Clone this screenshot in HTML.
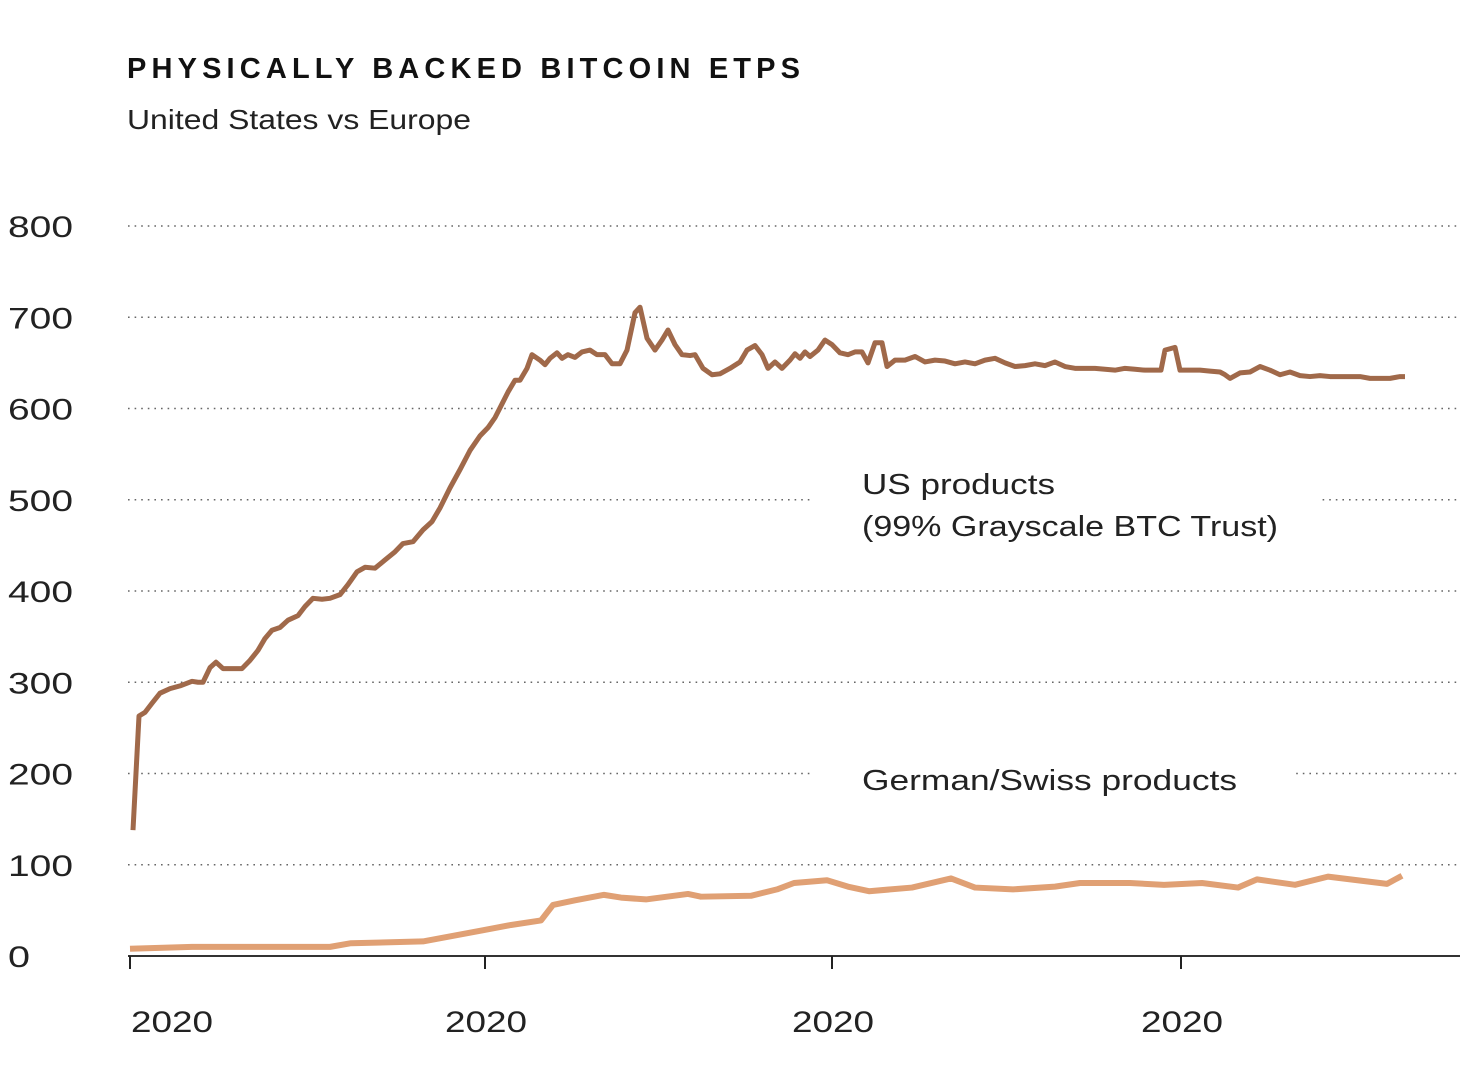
<!DOCTYPE html>
<html><head><meta charset="utf-8"><style>
body{margin:0;background:#fff;width:1477px;height:1064px;overflow:hidden;font-family:"Liberation Sans",sans-serif}
</style></head><body>
<svg width="1477" height="1064" xmlns="http://www.w3.org/2000/svg">
<text x="127" y="78" font-size="29" font-weight="bold" textLength="673" lengthAdjust="spacing" fill="#111">PHYSICALLY BACKED BITCOIN ETPS</text>
<text x="127" y="129" font-size="28" textLength="344" lengthAdjust="spacingAndGlyphs" fill="#222">United States vs Europe</text>
<g id="grid"></g><g id="lines"></g>
<rect x="812" y="470" width="508" height="80" fill="#fff"/>
<rect x="812" y="758" width="482" height="40" fill="#fff"/>
<text x="862" y="494" font-size="29" textLength="193" lengthAdjust="spacingAndGlyphs" fill="#222">US products</text>
<text x="862" y="536" font-size="29" textLength="416" lengthAdjust="spacingAndGlyphs" fill="#222">(99% Grayscale BTC Trust)</text>
<text x="862" y="790" font-size="29" textLength="375" lengthAdjust="spacingAndGlyphs" fill="#222">German/Swiss products</text>
<g id="axis"></g>
</svg>
<script>
const yTicks=[0,100,200,300,400,500,600,700,800];
const xTickDays=[0,355,702,1051];
const xTickLabels=["2020","2020","2020","2020"];
const usDays=[3,9,15,22,30,40,50,62,68,73,80,86,93,103,112,120,128,135,142,150,158,168,175,183,192,200,210,218,227,235,245,255,265,273,283,293,302,310,320,330,340,350,358,365,372,378,385,390,397,402,410,415,420,427,432,438,445,452,460,467,475,482,490,497,505,510,517,525,532,538,545,552,560,565,573,582,590,600,610,617,625,632,638,645,652,660,665,670,675,680,688,695,702,710,718,725,732,738,745,752,757,765,775,785,795,805,815,825,835,845,855,865,875,885,895,905,915,925,935,945,955,965,975,985,995,1005,1015,1025,1031,1035,1045,1050,1060,1070,1080,1090,1095,1100,1110,1120,1130,1140,1150,1160,1170,1180,1190,1200,1210,1220,1230,1240,1250,1260,1270,1275];
const usValues=[138,263,267,277,288,293,296,301,300,300,316,322,315,315,315,324,335,348,357,360,368,373,383,392,391,392,396,407,421,426,425,434,443,452,454,467,476,491,513,533,554,570,579,590,605,618,631,631,644,659,653,648,655,661,655,659,656,662,664,659,659,649,649,664,705,711,677,664,675,686,670,659,658,659,644,637,638,644,651,664,669,659,644,651,644,653,660,655,662,657,664,675,670,661,659,662,662,650,672,672,646,653,653,657,651,653,652,649,651,649,653,655,650,646,647,649,647,651,646,644,644,644,643,642,644,643,642,642,642,664,667,642,642,642,641,640,637,633,639,640,646,642,637,640,636,635,636,635,635,635,635,633,633,633,635,635,635];
const euDays=[0,62,200,221,293,352,381,411,423,445,474,491,516,558,571,621,647,664,697,718,739,782,821,845,883,925,950,1000,1034,1072,1108,1127,1165,1198,1257,1272];
const euValues=[8,10,10,14,16,28,34,39,56,61,67,64,62,68,65,66,73,80,83,76,71,75,85,75,73,76,80,80,78,80,75,84,78,87,79,88];
const NS="http://www.w3.org/2000/svg";
const xs=d=>130+d*1.0;
const ys=v=>956-v*0.9125;
function mk(t,a,p){const e=document.createElementNS(NS,t);for(const k in a)e.setAttribute(k,a[k]);p.appendChild(e);return e;}
const grid=document.getElementById('grid'),axis=document.getElementById('axis'),lines=document.getElementById('lines');
yTicks.forEach(v=>{
  if(v>0){const l=mk('line',{x1:128,x2:1460,y1:ys(v),y2:ys(v),stroke:'#666','stroke-width':1.6,'stroke-dasharray':'1.6 5'},grid);
  
  }
  const t=mk('text',{x:8,y:ys(v)+11,'font-size':30,fill:'#222',textLength:String(v).length>1?65:22,lengthAdjust:'spacingAndGlyphs'},axis);t.textContent=v;
  
  
});
const al=mk('line',{x1:128,x2:1460,y1:956,y2:956,stroke:'#333','stroke-width':2},axis);


xTickDays.forEach((d,i)=>{
  const tk=mk('line',{x1:xs(d),x2:xs(d),y1:956,y2:969,stroke:'#222','stroke-width':2},axis);
  
  
  const lx=i===0?xs(d)+1:xs(d)-40;
  const t=mk('text',{x:lx,y:1032,'font-size':30,fill:'#222',textLength:82,lengthAdjust:'spacingAndGlyphs'},axis);t.textContent=xTickLabels[i];
  
  
});
const pe=mk('path',{d:euDays.map((d,i)=>(i?'L':'M')+xs(d)+','+ys(euValues[i])).join(''),fill:'none',stroke:'#e0a074','stroke-width':6,'stroke-linejoin':'round'},lines);


const pu=mk('path',{d:usDays.map((d,i)=>(i?'L':'M')+xs(d)+','+ys(usValues[i])).join(''),fill:'none',stroke:'#a0694a','stroke-width':5,'stroke-linejoin':'round'},lines);


</script>
</body></html>
